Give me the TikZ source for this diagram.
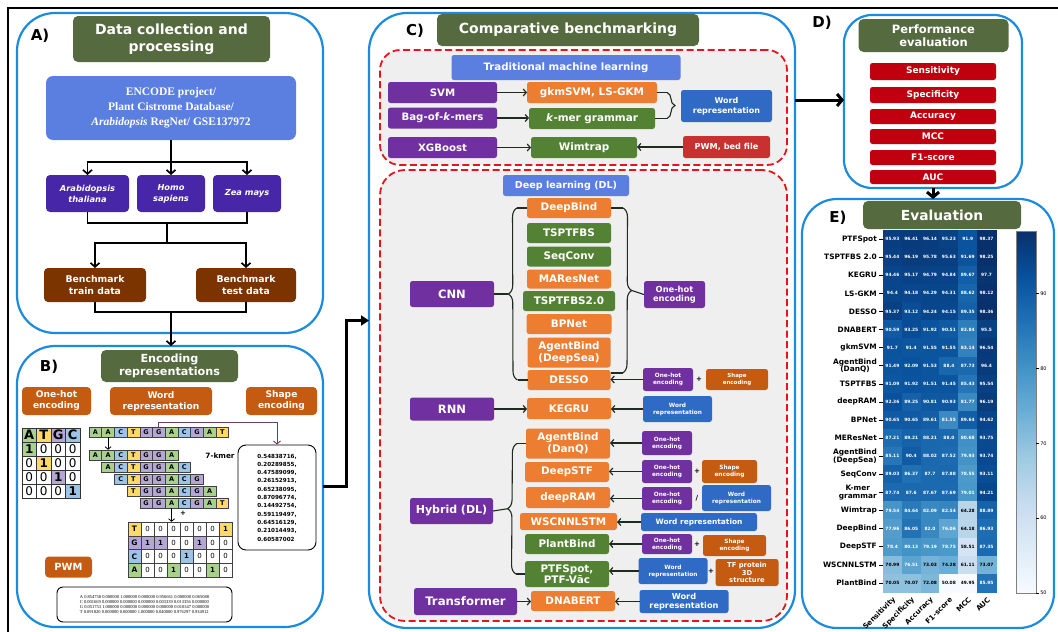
\documentclass[tikz,border=0pt]{standalone}
\usepackage{fontspec}
\setmainfont{DejaVu Sans}
\newfontfamily\encfont{Liberation Serif}
\usetikzlibrary{positioning,arrows.meta,shapes,calc,decorations.pathreplacing}
\newcommand\fsz[2]{\fontsize{#1}{#2}\selectfont}
\definecolor{PanelBlue}{HTML}{1B8BE0}
\definecolor{TitleGreen}{HTML}{556B3F}
\definecolor{SrcBlue}{HTML}{5A7FE0}
\definecolor{SpecPurple}{HTML}{4726A8}
\definecolor{DataBrown}{HTML}{7B3300}
\definecolor{EncOrange}{HTML}{C55A11}
\definecolor{ModPurple}{HTML}{7030A0}
\definecolor{ModOrange}{HTML}{ED7D31}
\definecolor{ModGreen}{HTML}{548235}
\definecolor{RepBlue}{HTML}{2F6BC4}
\definecolor{FileRed}{HTML}{C8312F}
\definecolor{MetRed}{HTML}{C0000F}
\definecolor{BoxGray}{HTML}{EFEFEF}
\definecolor{DashRed}{HTML}{E8141B}
\definecolor{ArrDark}{HTML}{1E2B1E}
\definecolor{KmerLine}{HTML}{6A3D66}
\definecolor{nucA}{HTML}{A9D18E}
\definecolor{nucT}{HTML}{FFD966}
\definecolor{nucG}{HTML}{B4A7D6}
\definecolor{nucC}{HTML}{9DC3E6}
\definecolor{Blues0}{HTML}{F7FBFF}
\definecolor{Blues1}{HTML}{DEEBF7}
\definecolor{Blues2}{HTML}{C6DBEF}
\definecolor{Blues3}{HTML}{9ECAE1}
\definecolor{Blues4}{HTML}{6BAED6}
\definecolor{Blues5}{HTML}{4292C6}
\definecolor{Blues6}{HTML}{2171B5}
\definecolor{Blues7}{HTML}{08519C}
\definecolor{Blues8}{HTML}{08306B}
\tikzset{
  box/.style={rounded corners=2.5pt, text=white, align=center, inner sep=0pt, outer sep=0pt},
  ttl/.style={box, fill=TitleGreen, rounded corners=5pt},
  sbox/.style={box, font=\bfseries\fsz{5.8}{7}},
  panel/.style={draw=PanelBlue, line width=2.2pt, rounded corners=38pt, inner sep=0pt, outer sep=0pt},
  dashbox/.style={draw=DashRed, fill=BoxGray, line width=1.8pt, dash pattern=on 7pt off 3.5pt, rounded corners=20pt, inner sep=0pt},
  lab/.style={font=\bfseries\fsz{15}{17}},
  flow/.style={line width=1.7pt, -{Straight Barb[length=4pt,width=9pt]}},
  link/.style={line width=1.7pt},
  arr/.style={draw=ArrDark, line width=1.2pt, -{Straight Barb[length=3pt,width=7pt]}},
  thinarr/.style={line width=0.8pt, -{Straight Barb[length=2.5pt,width=6pt]}},
  brc/.style={draw=ArrDark, line width=1.1pt},
  bigarr/.style={line width=3pt, -{Triangle[length=8pt,width=10pt]}},
  bigbarb/.style={line width=3pt, -{Straight Barb[length=5pt,width=12pt]}},
  nuc/.style={draw=black!75, line width=0.5pt, minimum width=12.7, minimum height=10, inner sep=0pt, font=\bfseries\fsz{6.5}{7}},
  ocell/.style={draw=black!80, line width=0.7pt, minimum width=14.5, minimum height=14, inner sep=0pt},
  mcell/.style={draw=black!75, line width=0.5pt, minimum width=13, minimum height=13.75, inner sep=0pt, font=\fsz{7}{8}},
  hcell/.style={minimum width=18.83, minimum height=18.1, inner sep=0pt, font=\bfseries\fsz{4.4}{5}},
  sym/.style={font=\bfseries\fsz{7}{8}, inner sep=0pt},
}
\begin{document}
\begin{tikzpicture}[x=1pt,y=-1pt]
\useasboundingbox (0,0) rectangle (1058,632);
\draw[line width=1.8pt] (8,632) -- (8,8) -- (1058,8);

\node[panel, minimum width=306, minimum height=320] (pA) at (170,173) {};
\node[panel, minimum width=306, minimum height=281] (pB) at (170,486.5) {};
\node[panel, minimum width=426, minimum height=615] (pC) at (582,320.5) {};
\node[panel, minimum width=178, minimum height=173, rounded corners=28pt] (pD) at (933,101.5) {};
\node[panel, minimum width=252, minimum height=429, rounded corners=35pt] (pE) at (928,413.5) {};

% A) data collection
\node[lab] (labA) at (40,36) {A)};
\node[ttl, minimum width=197, minimum height=46, font=\bfseries\fsz{14}{16.5}] (ttlA) at (171.5,39) {Data collection and\\processing};
\node[box, fill=SrcBlue, minimum width=250, minimum height=64, rounded corners=7pt, font=\encfont\bfseries\fsz{11.5}{15}] (src) at (171,108) {ENCODE project/\\Plant Cistrome Database/\\\textit{Arabidopsis} RegNet/ GSE137972};
\foreach \nm/\xx/\ww/\txt in {ara/87.5/83/{Arabidopsis\\thaliana}, hom/171/68/{Homo\\sapiens}, zea/247/68/{Zea mays}}
  \node[box, fill=SpecPurple, rounded corners=4pt, minimum width=\ww, minimum height=37, font=\bfseries\itshape\fsz{8.3}{11}] (\nm) at (\xx,193.5) {\txt};
\node[box, fill=DataBrown, rounded corners=4pt, minimum width=102, minimum height=34, font=\bfseries\fsz{9.3}{11.5}] (train) at (95,285) {Benchmark\\train data};
\node[box, fill=DataBrown, rounded corners=4pt, minimum width=100, minimum height=34, font=\bfseries\fsz{9.3}{11.5}] (test) at (246,285) {Benchmark\\test data};
\coordinate (splitA) at ($(src.south)+(0,22)$);
\draw[link] (src.south) -- (splitA);
\foreach \nm in {ara,hom,zea} \draw[flow] (splitA) -| (\nm.north);
\coordinate (joinA) at (167,223);
\coordinate (splitB) at (167,243);
\draw[link] (ara.south) |- (joinA) -| (zea.south);
\draw[link] (joinA) -- (splitB);
\draw[flow] (splitB) -| (train.north);
\draw[flow] (splitB) -| (test.north);
\coordinate (joinB) at (171,312);
\draw[link] (train.south) |- (joinB) -| (test.south);
\draw[flow] (joinB) -- (joinB |- pB.north);

% B) encoding
\node[lab] (labB) at (49,367) {B)};
\node[ttl, minimum width=137, minimum height=32, font=\bfseries\fsz{11.2}{13.5}] (ttlB) at (169.5,366) {Encoding\\representations};
\node[box, fill=EncOrange, rounded corners=4pt, minimum width=69, minimum height=28, font=\bfseries\fsz{9.1}{11}] (encOH) at (56.5,401) {One-hot\\encoding};
\node[box, fill=EncOrange, rounded corners=4pt, minimum width=102, minimum height=28, font=\bfseries\fsz{9.1}{11}] (encWR) at (161,401) {Word\\representation};
\node[box, fill=EncOrange, rounded corners=4pt, minimum width=71, minimum height=28, font=\bfseries\fsz{9.1}{11}] (encSH) at (281.5,401) {Shape\\encoding};
\foreach \nuc [count=\ci from 0] in {A,T,G,C} {
  \node[ocell, fill=nuc\nuc, font=\bfseries\fsz{13}{14}] (oh-0-\ci) at ({29.25+14.5*\ci},435) {\nuc};
  \foreach \ri in {1,2,3,4} {
    \ifnum\numexpr\ri-1\relax=\ci \def\ohf{nuc\nuc}\def\ohv{\textbf{1}}\else\def\ohf{white}\def\ohv{0}\fi
    \node[ocell, fill=\ohf, font=\fsz{12}{13}] (oh-\ri-\ci) at ({29.25+14.5*\ci},{435+14*\ri}) {\ohv};
  }
}
\foreach \sq/\xs/\yc/\rw in {{A,A,C,T,G,G,A,C,G,A,T}/89/432/1, {A,A,C,T,G,G,A}/89/455/2, {A,C,T,G,G,A,C}/101.7/467/3, {C,T,G,G,A,C,G}/114.4/479/4, {T,G,G,A,C,G,A}/127.1/491/5, {G,G,A,C,G,A,T}/139.8/503/6}
  \foreach \ch [count=\k from 0] in \sq
    \node[nuc, fill=nuc\ch] (s\rw-\k) at ({\xs+12.7*\k+6.35},\yc) {\ch};
\node[font=\bfseries\fsz{7.3}{8}] (kmer) at (220,456) {7-kmer};
\draw[thinarr] (s1-1.south) -- (s2-1.north);
\foreach \nuc/\vals [count=\ri from 0] in {T/{0,0,0,0,0,0,1},G/{1,1,0,0,1,0,0},C/{0,0,0,1,0,0,0},A/{0,0,1,0,0,1,0}} {
  \node[mcell, fill=nuc\nuc, font=\bfseries\fsz{7.5}{8}] (wm-\ri-0) at (134.5,{528.9+13.75*\ri}) {\nuc};
  \foreach \wv [count=\ci] in \vals {
    \ifnum\wv=1 \def\wmf{nuc\nuc}\def\wmv{\textbf{1}}\else\def\wmf{white}\def\wmv{0}\fi
    \node[mcell, fill=\wmf] (wm-\ri-\ci) at ({134.5+13*\ci},{528.9+13.75*\ri}) {\wmv};
  }
}
\draw[thinarr] (s6-2.south) -- (s6-2.south |- wm-0-0.north);
\node[sym] (plusB) at (183,513) {+};
\node[draw, fill=white, line width=0.9pt, rounded corners=8pt, minimum width=78, minimum height=105, align=left, font=\bfseries\fsz{5.6}{8.3}] (shp) at (277,497.5) {0.54838716,\\0.20289855,\\0.47589099,\\0.26152913,\\0.65238095,\\0.87096774,\\0.14492754,\\0.59119497,\\0.64516129,\\0.21014493,\\0.60587002};
\draw[KmerLine, line width=0.9pt, -{Straight Barb[length=3pt,width=7pt]}] (s1-5.north) -- ++(0,-4) -| (shp.north);
\node[box, fill=EncOrange, rounded corners=4pt, minimum width=47, minimum height=21, font=\bfseries\fsz{9.9}{11}] (pwmB) at (68.5,567) {PWM};
\node[draw, line width=0.9pt, rounded corners=6pt, minimum width=175, minimum height=35, align=left, font=\encfont\fsz{4.5}{4.9}] (pwmtab) at (144.5,604.5) {A 0.854758 0.000000 1.000000 0.000000 0.956661 0.000000 0.065088\\C 0.001669 0.000000 0.000000 0.000000 0.003339 0.013356 0.000000\\G 0.051753 1.000000 0.000000 0.000000 0.000000 0.010347 0.000000\\T 0.091820 0.000000 0.000000 1.000000 0.040000 0.976297 0.934912};
\draw[bigarr] (pB.east) -- ++(23,0) |- (pC.west);

% C) benchmarking
\node[lab] (labC) at (415,31) {C)};
\node[ttl, minimum width=262, minimum height=32, font=\bfseries\fsz{14}{16}] (ttlC) at (568,30) {Comparative benchmarking};
\node[dashbox, minimum width=407, minimum height=115] (tmlBox) at (583.5,107.5) {};
\node[dashbox, minimum width=407, minimum height=451, rounded corners=25pt] (dlBox) at (583.5,395.5) {};
\node[box, fill=SrcBlue, minimum width=229, minimum height=25, font=\bfseries\fsz{10.2}{12}] (tml) at (566,67.5) {Traditional machine learning};
\node[box, fill=ModPurple, minimum width=109, minimum height=21, font=\bfseries\fsz{10.2}{12}] (svm) at (442.5,92.5) {SVM};
\node[box, fill=ModOrange, minimum width=130, minimum height=21, font=\bfseries\fsz{10.4}{12}] (gkm) at (592,92.5) {gkmSVM, LS-GKM};
\node[box, fill=ModPurple, minimum width=109, minimum height=21, font=\bfseries\fsz{10.2}{12}] (bag) at (442.5,118) {Bag-of-\textit{k}-mers};
\node[box, fill=ModGreen, minimum width=126, minimum height=21, font=\bfseries\fsz{10.4}{12}] (kmg) at (592,118.5) {\textit{k}-mer grammar};
\node[box, fill=RepBlue, minimum width=91, minimum height=32, font=\bfseries\fsz{8}{10}] (wr1) at (726.5,106) {Word\\representation};
\node[box, fill=ModPurple, minimum width=109, minimum height=21, font=\bfseries\fsz{10.2}{12}] (xgb) at (442.5,147.5) {XGBoost};
\node[box, fill=ModGreen, minimum width=106, minimum height=21, font=\bfseries\fsz{10.4}{12}] (wim) at (584,147.5) {Wimtrap};
\node[box, fill=FileRed, minimum width=87, minimum height=22, font=\bfseries\fsz{8.2}{10}] (pwm) at (726.5,147) {PWM, bed file};
\draw[arr] (svm.east) -- (svm.east -| gkm.west);
\draw[arr] (bag.east) -- (bag.east -| kmg.west);
\draw[arr] (xgb.east) -- (xgb.east -| wim.west);
\draw[arr] (pwm.west) -- (pwm.west -| wim.east);
\coordinate (b1t) at ($(gkm.east -| wr1.west)+(-14,0)$);
\coordinate (b1b) at ($(kmg.east -| wr1.west)+(-14,0)$);
\draw[brc] (gkm.east) -- (b1t);
\draw[brc] (kmg.east) -- (b1b);
\draw[brc, decorate, decoration={brace, amplitude=8pt}] (b1t) -- (b1b);

\node[box, fill=SrcBlue, minimum width=126, minimum height=21, font=\bfseries\fsz{9.6}{11}] (dl) at (566,185.5) {Deep learning (DL)};
\foreach \nm/\txt/\col/\yy/\ww/\hh in {db/DeepBind/ModOrange/208/84/20, tsp/TSPTFBS/ModGreen/233/84/20, sqc/SeqConv/ModGreen/256.5/84/20, mar/MAResNet/ModOrange/279/84/19, tsp2/TSPTFBS2.0/ModGreen/301/92/20, bpn/BPNet/ModOrange/324/85/20, adsea/{AgentBind\\(DeepSea)}/ModOrange/352.5/83/30, desso/DESSO/ModOrange/380/83/20}
  \node[box, fill=\col, minimum width=\ww, minimum height=\hh, font=\bfseries\fsz{10.4}{12}] (\nm) at (569,\yy) {\txt};
\node[box, fill=ModPurple, minimum width=84, minimum height=26, font=\bfseries\fsz{11.5}{13}] (cnn) at (452,294) {CNN};
\node[box, fill=ModPurple, minimum width=61, minimum height=27, font=\bfseries\fsz{8.3}{9.5}] (oh1) at (674.5,294.5) {One-hot\\encoding};
\coordinate (clt) at ($(db.west)+(-10,0)$);
\coordinate (clb) at ($(desso.west)+(-10,0)$);
\draw[brc] (db.west) -- (clt);
\draw[brc] (desso.west) -- (clb);
\draw[brc, decorate, decoration={brace, amplitude=9pt}] (clb) -- (clt);
\draw[brc] ($(clt)!0.5!(clb)+(-9,0)$) -- (cnn.east);
\coordinate (crt) at ($(db.east)+(12,0)$);
\coordinate (crb) at ($(desso.east)+(12,-7)$);
\draw[brc] (db.east) -- (crt);
\draw[brc] ($(desso.east)+(0,-7)$) -- (crb);
\draw[brc, decorate, decoration={brace, amplitude=9pt}] (crt) -- (crb);
\draw[brc] ($(crt)!0.5!(crb)+(9,0)$) -- (oh1.west);
\node[sbox, fill=ModPurple, minimum width=50, minimum height=23] (oh2) at (668,379.5) {One-hot\\encoding};
\node[sym] (pl1) at (699,379.5) {+};
\node[sbox, fill=EncOrange, minimum width=62, minimum height=21, font=\bfseries\fsz{5.5}{7}] (se1) at (737,379.5) {Shape\\encoding};
\draw[arr] (oh2.west) -- (oh2.west -| desso.east);

\node[box, fill=ModPurple, minimum width=84, minimum height=23, font=\bfseries\fsz{11.5}{13}] (rnn) at (452,409) {RNN};
\node[box, fill=ModOrange, minimum width=84, minimum height=21, font=\bfseries\fsz{10.4}{12}] (kegru) at (569,408.5) {KEGRU};
\node[sbox, fill=RepBlue, minimum width=69, minimum height=26] (wr2) at (677.5,409) {Word\\representation};
\draw[arr] (rnn.east) -- (rnn.east -| kegru.west);
\draw[arr] (wr2.west) -- (wr2.west -| kegru.east);

\node[box, fill=ModPurple, minimum width=83, minimum height=26, font=\bfseries\fsz{11}{13}] (hyb) at (451.5,511) {Hybrid (DL)};
\foreach \nm/\txt/\col/\xx/\yy/\ww/\hh in {adq/{AgentBind\\(DanQ)}/ModOrange/568/443.5/84/30, dstf/DeepSTF/ModOrange/567/472/84/20, dram/deepRAM/ModOrange/568/497.5/84/21, wsc/WSCNNLSTM/ModOrange/568.5/521.5/97/17, pbd/PlantBind/ModGreen/567/544/84/20, ptf/{PTFSpot,\\PTF-Vāc}/ModGreen/567/574/84/26}
  \node[box, fill=\col, minimum width=\ww, minimum height=\hh, font=\bfseries\fsz{10.4}{11.5}] (\nm) at (\xx,\yy) {\txt};
\coordinate (hlt) at ($(adq.west)+(-9,0)$);
\coordinate (hlb) at ($(ptf.west)+(-9,0)$);
\draw[brc] (adq.west) -- (hlt);
\draw[brc] (ptf.west) -- (hlb);
\draw[brc, decorate, decoration={brace, amplitude=9pt}] (hlb) -- (hlt);
\draw[brc] ($(hlt)!0.5!(hlb)+(-9,0)$) -- (hyb.east);
\node[sbox, fill=ModPurple, minimum width=50, minimum height=24] (ohA) at (667,443) {One-hot\\encoding};
\node[sbox, fill=ModPurple, minimum width=50, minimum height=23] (ohB) at (667,471.5) {One-hot\\encoding};
\node[sym] (plB) at (697,471.5) {+};
\node[sbox, fill=EncOrange, minimum width=55, minimum height=23] (seB) at (729.5,471.5) {Shape\\encoding};
\node[sbox, fill=ModPurple, minimum width=50, minimum height=23] (ohC) at (667,498.5) {One-hot\\encoding};
\node[sym] (slC) at (697,498.5) {/};
\node[sbox, fill=RepBlue, minimum width=69, minimum height=26] (wrC) at (736.5,498) {Word\\representation};
\node[sbox, fill=RepBlue, minimum width=116, minimum height=18, font=\bfseries\fsz{7.4}{8}] (wrD) at (699,522) {Word representation};
\node[sbox, fill=ModPurple, minimum width=50, minimum height=20] (ohE) at (667,544) {One-hot\\encoding};
\node[sym] (plE) at (697,544) {+};
\node[sbox, fill=EncOrange, minimum width=63, minimum height=21] (seE) at (734.5,545.5) {Shape\\encoding};
\node[sbox, fill=RepBlue, minimum width=69, minimum height=26] (wrF) at (673,571) {Word\\representation};
\node[sym] (plF) at (711,571) {+};
\node[sbox, fill=EncOrange, minimum width=63, minimum height=27, font=\bfseries\fsz{6.8}{7.8}] (tfF) at (747,572.5) {TF protein\\3D\\structure};
\foreach \src/\dst in {ohA/adq, ohB/dstf, ohC/dram, wrD/wsc, ohE/pbd, wrF/ptf}
  \draw[arr] (\src.west) -- (\src.west -| \dst.east);

\node[box, fill=ModPurple, minimum width=103, minimum height=27, font=\bfseries\fsz{11.7}{13}] (trf) at (465.5,601.5) {Transformer};
\node[box, fill=ModOrange, minimum width=84, minimum height=20, font=\bfseries\fsz{10.4}{12}] (dnab) at (573,601) {DNABERT};
\node[box, fill=RepBlue, minimum width=89, minimum height=23, font=\bfseries\fsz{8.2}{9.5}] (wrG) at (684,601.5) {Word\\representation};
\draw[arr] (trf.east) -- (trf.east -| dnab.west);
\draw[arr] (wrG.west) -- (wrG.west -| dnab.east);
\draw[bigbarb] (pC.east |- 0,100) -- (pD.west |- 0,100);

% D) performance evaluation
\node[lab] (labD) at (822,23) {D)};
\node[ttl, minimum width=150, minimum height=33, font=\bfseries\fsz{11.5}{13.5}] (ttlD) at (933.5,35.5) {Performance\\evaluation};
\foreach \nm/\txt/\yy/\hh in {sen/Sensitivity/71.5/17, spe/Specificity/95/16, acc/Accuracy/116.5/15, mcc/MCC/136.5/15, fone/F1-score/157.5/15, auc/AUC/177/14}
  \node[box, fill=MetRed, minimum width=126, minimum height=\hh, font=\bfseries\fsz{9}{10}] (\nm) at (933,\yy) {\txt};
\draw[bigbarb] (pD.south) -- (pD.south |- pE.north);

% E) evaluation heatmap
\node[lab] (labE) at (838,218) {E)};
\node[ttl, minimum width=158, minimum height=28, font=\bfseries\fsz{13.8}{15}] (ttlE) at (942,215) {Evaluation};
\foreach \rl/\vals [count=\hj from 0] in {
 PTFSpot/{95.93,96.41,96.14,95.23,91.9,98.37},
 {TSPTFBS 2.0}/{95.44,96.19,95.78,95.63,91.69,98.25},
 KEGRU/{94.46,95.17,94.79,94.84,89.67,97.7},
 LS-GKM/{94.4,94.18,94.29,94.31,88.62,98.12},
 DESSO/{95.37,93.12,94.24,94.15,89.35,98.36},
 DNABERT/{90.59,93.25,91.92,90.51,83.84,95.5},
 gkmSVM/{91.7,91.4,91.55,91.55,83.14,96.54},
 {AgentBind\\(DanQ)}/{91.49,92.09,91.53,88.4,87.73,96.4},
 TSPTFBS/{91.09,91.92,91.51,91.45,85.43,95.54},
 deepRAM/{92.36,89.25,90.81,90.93,81.77,96.19},
 BPNet/{90.65,90.65,89.61,81.55,89.64,94.62},
 MEResNet/{87.21,89.21,88.21,88.0,80.68,93.75},
 {AgentBind\\(DeepSea)}/{85.11,90.4,88.02,87.52,79.93,93.74},
 SeqConv/{89.03,86.37,87.7,87.88,78.55,93.11},
 {K-mer\\grammar}/{87.74,87.6,87.67,87.69,79.01,94.21},
 Wimtrap/{79.54,84.64,82.09,82.54,64.28,88.89},
 DeepBind/{77.96,86.05,82.0,76.06,64.18,86.93},
 DeepSTF/{78.4,80.13,79.19,78.75,58.51,87.35},
 WSCNNLSTM/{70.99,76.51,73.03,74.28,61.11,73.07},
 PlantBind/{70.05,70.07,72.08,50.08,49.95,85.95}} {
  \pgfmathsetmacro\hmY{239.05+18.1*\hj}
  \node[anchor=east, align=center, inner sep=0pt, font=\bfseries\fsz{7.4}{7.8}] (rl-\hj) at (877,\hmY) {\rl};
  \draw[line width=0.6pt] (879,\hmY) -- (883,\hmY);
  \foreach \hv [count=\hi from 0] in \vals {
    \pgfmathsetmacro\hmT{max(0,min(1,(\hv-50)/48.37))*8}
    \pgfmathtruncatemacro\hmK{min(7,floor(\hmT))}
    \pgfmathtruncatemacro\hmN{\hmK+1}
    \pgfmathtruncatemacro\hmF{round((\hmT-\hmK)*100)}
    \colorlet{hmc}{Blues\hmN!\hmF!Blues\hmK}
    \ifdim\hv pt<75pt \def\hmTxt{black}\else\def\hmTxt{white}\fi
    \node[hcell, fill=hmc, draw=hmc, line width=0.3pt, text=\hmTxt] (hm-\hj-\hi) at ({892.4+18.83*\hi},\hmY) {\hv};
  }
}
\foreach \cl [count=\hi from 0] in {Sensitivity,Specificity,Accuracy,F1-score,MCC,AUC}
  \node[rotate=45, anchor=east, inner sep=0.5pt, font=\bfseries\fsz{7.1}{8}] (cl-\hi) at ({895+18.83*\hi},598) {\cl};
\foreach \k in {0,...,7} {
  \pgfmathtruncatemacro\kn{\k+1}
  \shade[bottom color=Blues\k, top color=Blues\kn] (1016,{593-45.25*\k+0.3}) rectangle (1036,{593-45.25*(\k+1)});
}
\draw[gray, line width=0.5pt] (1016,231) rectangle (1036,593);
\foreach \tk in {50,60,70,80,90} {
  \pgfmathsetmacro\tkY{593-(\tk-50)*362/48.37}
  \draw[line width=0.5pt] (1036,\tkY) -- (1039,\tkY) node[right, inner sep=1pt, font=\fsz{5}{6}] {\tk};
}
\end{tikzpicture}
\end{document}
